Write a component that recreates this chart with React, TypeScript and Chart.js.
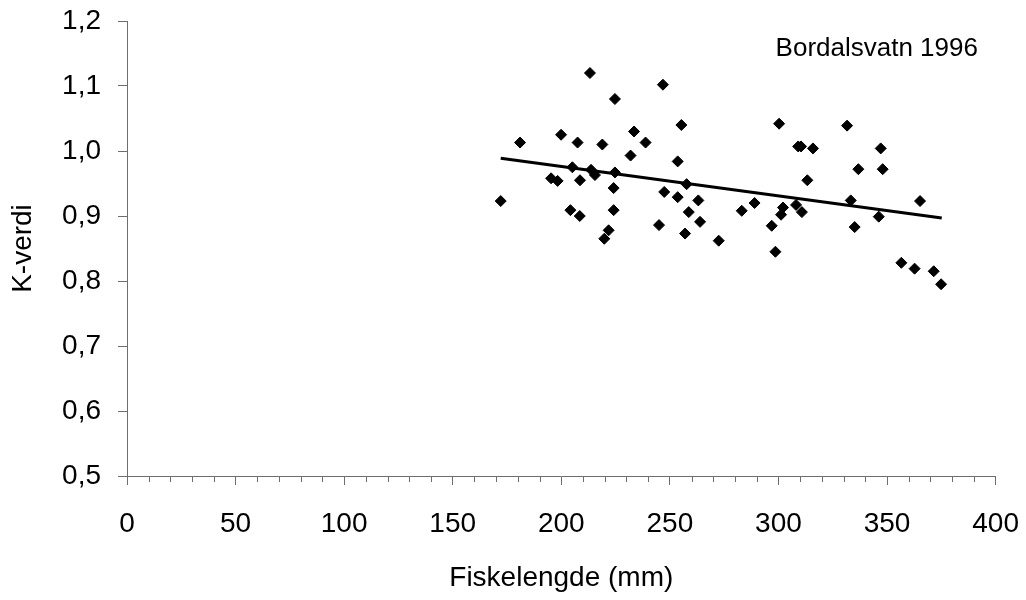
import React, { useEffect, useRef } from "react";
import { Chart, registerables } from "chart.js";

Chart.register(...registerables);

// Fish length (mm)
const lengths: number[] = [
  172.1, 181.0, 195.3, 198.3, 199.9, 204.2, 205.1, 207.5, 208.5, 208.6,
  213.2, 213.7, 215.5, 218.9, 219.8, 221.8, 224.1, 224.1, 224.7, 224.7,
  231.9, 233.5, 238.8, 245.0, 246.8, 247.4, 253.6, 253.6, 255.3, 257.0,
  257.7, 258.7, 263.1, 263.9, 272.5, 283.1, 289.0, 296.9, 298.6, 300.3,
  301.2, 302.1, 308.1, 309.1, 310.4, 310.8, 313.3, 315.9, 331.6, 333.3,
  335.1, 336.8, 346.2, 347.1, 348.0, 356.6, 362.7, 365.2, 371.5, 374.9,
];

// Condition factor (K)
const kValues: number[] = [
  0.923, 1.013, 0.958, 0.954, 1.025, 0.909, 0.975, 1.013, 0.900, 0.955,
  1.120, 0.971, 0.963, 1.010, 0.865, 0.878, 0.943, 0.909, 1.080, 0.967,
  0.993, 1.030, 1.013, 0.886, 1.102, 0.937, 0.984, 0.929, 1.040, 0.873,
  0.949, 0.906, 0.924, 0.891, 0.862, 0.908, 0.920, 0.885, 0.845, 1.042,
  0.902, 0.913, 0.917, 1.007, 1.007, 0.906, 0.955, 1.004, 1.039, 0.924,
  0.883, 0.972, 0.899, 1.004, 0.972, 0.828, 0.819, 0.923, 0.815, 0.795,
];

// Trend line (start / end)
const trendX: number[] = [172.1, 375.2];
const trendY: number[] = [0.989, 0.897];

const xTicks = { min: 0, max: 400, step: 50, minorStep: 10 };
const yTicks = { min: 0.5, max: 1.2, step: 0.1 };

const xTitle = "Fiskelengde (mm)";
const yTitle = "K-verdi";
const annotationText = "Bordalsvatn 1996";

const FONT = "'Liberation Sans', Arial, Helvetica, sans-serif";
const AXIS_COLOR = "#6e6e6e";

export default function App() {
  const canvasRef = useRef<HTMLCanvasElement | null>(null);

  useEffect(() => {
    const canvas = canvasRef.current;
    if (!canvas) return;

    const minorTicks = {
      id: "minorTicks",
      afterDraw(chart: any) {
        const xs = chart.scales.x;
        const ctx = chart.ctx;
        const y0 = chart.chartArea.bottom;
        ctx.save();
        ctx.strokeStyle = AXIS_COLOR;
        ctx.lineWidth = 1;
        ctx.beginPath();
        for (let v = xTicks.min + xTicks.minorStep; v < xTicks.max; v += xTicks.minorStep) {
          if (v % xTicks.step === 0) continue;
          const px = Math.round(xs.getPixelForValue(v)) + 0.5;
          ctx.moveTo(px, y0);
          ctx.lineTo(px, y0 + 6);
        }
        ctx.stroke();
        ctx.restore();
      },
    };

    const annotation = {
      id: "annotation",
      afterDraw(chart: any) {
        const ctx = chart.ctx;
        ctx.save();
        ctx.fillStyle = "#000";
        ctx.font = `26px ${FONT}`;
        ctx.textAlign = "left";
        ctx.textBaseline = "middle";
        ctx.fillText(annotationText, chart.chartArea.right - 220, 49);
        ctx.restore();
      },
    };

    const points = lengths.map((x, i) => ({ x, y: kValues[i] }));
    const trend = trendX.map((x, i) => ({ x, y: trendY[i] }));

    const chart = new Chart(canvas, {
      type: "scatter",
      data: {
        datasets: [
          {
            label: "K",
            data: points,
            pointStyle: "rectRot",
            pointRadius: 5.5,
            pointBackgroundColor: "#000",
            pointBorderColor: "#000",
            pointBorderWidth: 1,
            order: 2,
          },
          {
            label: "trend",
            data: trend,
            showLine: true,
            borderColor: "#000",
            borderWidth: 3,
            pointRadius: 0,
            order: 1,
          } as any,
        ],
      },
      options: {
        animation: false,
        responsive: false,
        layout: { padding: { left: 0, top: 21, right: 30.4, bottom: 0 } },
        plugins: {
          legend: { display: false },
          tooltip: { enabled: false },
        },
        scales: {
          x: {
            type: "linear",
            min: xTicks.min,
            max: xTicks.max,
            afterFit(scale: any) {
              scale.height = 124;
              scale.paddingLeft = 0;
              scale.paddingRight = 0;
            },
            ticks: {
              stepSize: xTicks.step,
              color: "#000",
              font: { family: FONT, size: 28 },
              padding: 22,
              maxRotation: 0,
            },
            grid: {
              display: true,
              drawOnChartArea: false,
              drawTicks: true,
              tickLength: 9,
              tickColor: AXIS_COLOR,
              tickWidth: 1,
            },
            border: { display: true, color: AXIS_COLOR, width: 1 },
            title: {
              display: true,
              text: xTitle,
              color: "#000",
              font: { family: FONT, size: 28 },
              padding: { top: 0, bottom: 5 },
            },
          },
          y: {
            type: "linear",
            min: yTicks.min,
            max: yTicks.max,
            afterFit(scale: any) {
              scale.width = 127;
              scale.paddingTop = 0;
              scale.paddingBottom = 0;
            },
            ticks: {
              stepSize: yTicks.step,
              color: "#000",
              font: { family: FONT, size: 28 },
              padding: 17,
              callback: (v: any) => Number(v).toFixed(1).replace(".", ","),
            },
            grid: {
              display: true,
              drawOnChartArea: false,
              drawTicks: true,
              tickLength: 9,
              tickColor: AXIS_COLOR,
              tickWidth: 1,
            },
            border: { display: true, color: AXIS_COLOR, width: 1 },
            title: {
              display: true,
              text: yTitle,
              color: "#000",
              font: { family: FONT, size: 28 },
              padding: { top: 6, bottom: 0 },
            },
          },
        },
      },
      plugins: [minorTicks, annotation],
    });

    return () => chart.destroy();
  }, []);

  return (
    <div style={{ position: "absolute", left: 0, top: 0, width: 1026, height: 600, background: "#fff" }}>
      <canvas ref={canvasRef} width={1026} height={600} />
    </div>
  );
}
